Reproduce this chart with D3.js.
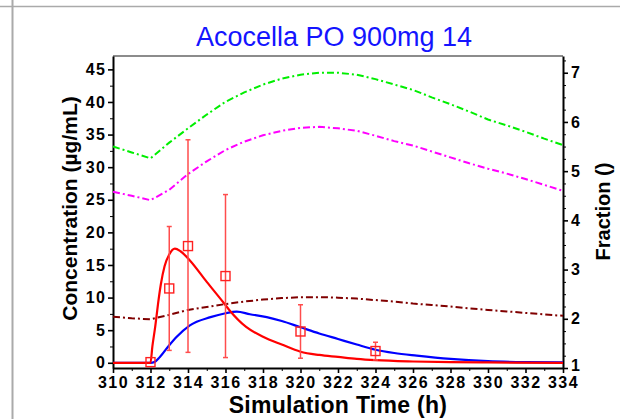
<!DOCTYPE html>
<html><head><meta charset="utf-8">
<script src="https://cdn.jsdelivr.net/npm/d3@7"></script>
<style>
html,body{margin:0;padding:0;background:#fff;}
svg{display:block;}
</style></head>
<body>
<svg id="c" width="620" height="419"></svg>
<script>
// ---- data ----
const xTicks = [310,312,314,316,318,320,322,324,326,328,330,332,334];
const yLeftTicks = [0,5,10,15,20,25,30,35,40,45];
const yRightTicks = [1,2,3,4,5,6,7];

// simulated concentration (µg/mL)
const redT = [310,311,312,312.1,312.25,312.4,312.55,312.75,313,313.3,313.6,314.1,315,315.9,316.2,317.1,318,319,320,321,322,323,324,326,328,330,334];
const redV = [0,0,0,2.5,5.5,9.0,12.0,14.8,16.6,17.5,17.1,15.7,12.4,9.2,8.1,5.5,4.0,2.8,1.7,1.2,0.9,0.6,0.4,0.2,0.1,0.05,0];
const blueT = [310,311,312,312.2,312.5,313,313.4,314.1,315.2,316,316.6,317.3,318.2,319,320,321,322,323,324,325,326.2,328,330,332,334];
const blueV = [0,0,0,0.1,0.9,2.7,4.0,5.75,7.0,7.6,7.85,7.45,7.0,6.4,5.45,4.5,3.65,2.8,2.0,1.5,1.1,0.6,0.25,0.1,0.05];

// fraction series
const fracT = [310,311,312,313,314,315,316,317,318,319,320,321,322,323,324,325,326,327,328,329,330,331,332,333,334];
const greenV = [5.50,5.38,5.26,5.58,5.87,6.15,6.41,6.60,6.76,6.88,6.96,7.00,7.00,6.96,6.87,6.76,6.65,6.50,6.36,6.21,6.05,5.93,5.80,5.66,5.53];
const magentaV = [4.58,4.50,4.41,4.62,4.94,5.20,5.43,5.60,5.73,5.82,5.88,5.90,5.87,5.82,5.72,5.61,5.52,5.40,5.28,5.16,5.05,4.95,4.84,4.72,4.60];
const maroonV = [2.04,2.01,1.99,2.08,2.18,2.24,2.30,2.35,2.39,2.42,2.44,2.44,2.43,2.41,2.38,2.35,2.31,2.28,2.25,2.21,2.18,2.15,2.12,2.09,2.06];

// observed
const obsT = [312,313,314,316,320,324];
const obsMean = [0.1,11.4,17.9,13.3,4.8,1.8];
const obsSD = [0,9.5,16.3,12.5,4.1,1.35];

// ---- chart ----
const svg = d3.select("#c");
const L=113, R=563, T=56, B=368;
const x = d3.scaleLinear([310,334],[L,R]);
const yL = d3.scaleLinear([-0.8,47.05],[B,T]);
const yR = d3.scaleLinear([1,7.34],[B,T]);
const FONT = "'Liberation Sans', Arial, sans-serif";

// frame lines at edge
svg.append("line").attr("x1",0).attr("x2",620).attr("y1",6.5).attr("y2",6.5).attr("stroke","#aaa").attr("stroke-width",1.5);
svg.append("line").attr("x1",12.5).attr("x2",12.5).attr("y1",0).attr("y2",419).attr("stroke","#aaa").attr("stroke-width",2);

// title
svg.append("text").attr("x",334).attr("y",46).attr("text-anchor","middle")
  .attr("font-family",FONT).attr("font-size",27).attr("fill","#1414ff").text("Acocella PO 900mg 14");

// top border
svg.append("line").attr("x1",L).attr("x2",R).attr("y1",T).attr("y2",T).attr("stroke","#666").attr("stroke-width",1.5);

function styleAxis(g){
  g.select(".domain").attr("stroke","#000").attr("stroke-width",2);
  g.selectAll(".tick line").attr("stroke","#000").attr("stroke-width",1.6);
  g.selectAll("text").attr("font-family",FONT).attr("font-weight","bold").attr("font-size",16)
    .attr("letter-spacing","1.5px").attr("fill","#000");
}
function minor(g){ g.select(".domain").remove(); g.selectAll("text").remove(); g.selectAll(".tick line").attr("stroke","#000").attr("stroke-width",1); }

// minor ticks
const xMinor = d3.range(311,334,2);
const yLMinor = d3.range(2.5,47,5);
const yRMinor = d3.range(1,7.34,0.25).filter(v=>Math.abs(v-Math.round(v))>0.01);
svg.append("g").attr("transform",`translate(0,${B})`).call(d3.axisBottom(x).tickValues(xMinor).tickSize(3).tickFormat("")).call(minor);
svg.append("g").attr("transform",`translate(${L},0)`).call(d3.axisLeft(yL).tickValues(yLMinor).tickSize(3).tickFormat("")).call(minor);
svg.append("g").attr("transform",`translate(${R},0)`).call(d3.axisRight(yR).tickValues(yRMinor).tickSize(3).tickFormat("")).call(minor);

// major axes
svg.append("g").attr("transform",`translate(0,${B})`).call(d3.axisBottom(x).tickValues(xTicks).tickSize(5).tickSizeOuter(0).tickPadding(4).tickFormat(d3.format("d"))).call(styleAxis);
svg.append("g").attr("transform",`translate(${L},0)`).call(d3.axisLeft(yL).tickValues(yLeftTicks).tickSize(5).tickSizeOuter(0).tickPadding(1.5).tickFormat(d3.format("d"))).call(styleAxis);
svg.append("g").attr("transform",`translate(${R},0)`).call(d3.axisRight(yR).tickValues(yRightTicks).tickSize(5).tickSizeOuter(0).tickPadding(3).tickFormat(d3.format("d"))).call(styleAxis)
  .call(g=>g.selectAll(".tick text").filter(d=>d===1).attr("y",-3));

// axis labels
svg.append("text").attr("x",338).attr("y",413).attr("text-anchor","middle")
  .attr("font-family",FONT).attr("font-weight","bold").attr("font-size",23).attr("letter-spacing","0.3px").text("Simulation Time (h)");
svg.append("text").attr("transform","translate(77,208.5) rotate(-90)").attr("text-anchor","middle")
  .attr("font-family",FONT).attr("font-weight","bold").attr("font-size",21).text("Concentration (µg/mL)");
svg.append("text").attr("transform","translate(610,211.5) rotate(-90)").attr("text-anchor","middle")
  .attr("font-family",FONT).attr("font-weight","bold").attr("font-size",20).text("Fraction ()");

const plot = svg.append("g");
const dashDot = "7,3,2,3";
function fracLine(vals,color){
  const data = fracT.map((t,i)=>[t,vals[i]]);
  plot.append("path").datum(data).attr("fill","none").attr("stroke",color).attr("stroke-width",2)
    .attr("stroke-dasharray",dashDot)
    .attr("d",d3.line().x(d=>x(d[0])).y(d=>yR(d[1])).curve(d3.curveLinear));
}
fracLine(greenV,"#00ee00");
fracLine(magentaV,"#ff00ff");
fracLine(maroonV,"#800000");

const concLine = d3.line().x(d=>x(d[0])).y(d=>yL(d[1])).curve(d3.curveMonotoneX);
plot.append("path").datum(blueT.map((t,i)=>[t,blueV[i]])).attr("fill","none").attr("stroke","#0000ff").attr("stroke-width",2.2).attr("d",concLine);
plot.append("path").datum(redT.map((t,i)=>[t,redV[i]])).attr("fill","none").attr("stroke","#ff0000").attr("stroke-width",2.2).attr("d",concLine);

// observed with error bars
const obs = obsT.map((t,i)=>({t,m:obsMean[i],s:obsSD[i]}));
const eb = plot.append("g").attr("stroke","#ff4d4d").attr("stroke-width",1.5);
obs.filter(d=>d.s>0).forEach(d=>{
  const cx=x(d.t), y1=yL(d.m+d.s), y2=yL(d.m-d.s);
  eb.append("line").attr("x1",cx).attr("x2",cx).attr("y1",y1).attr("y2",y2);
  eb.append("line").attr("x1",cx-2.5).attr("x2",cx+2.5).attr("y1",y1).attr("y2",y1);
  eb.append("line").attr("x1",cx-2.5).attr("x2",cx+2.5).attr("y1",y2).attr("y2",y2);
});
plot.selectAll("rect.obs").data(obs).join("rect").attr("class","obs")
  .attr("x",d=>x(d.t)-4.5).attr("y",d=>yL(d.m)-4.5).attr("width",9).attr("height",9)
  .attr("fill","none").attr("stroke","#ff2020").attr("stroke-width",1.4);
</script>
</body></html>
